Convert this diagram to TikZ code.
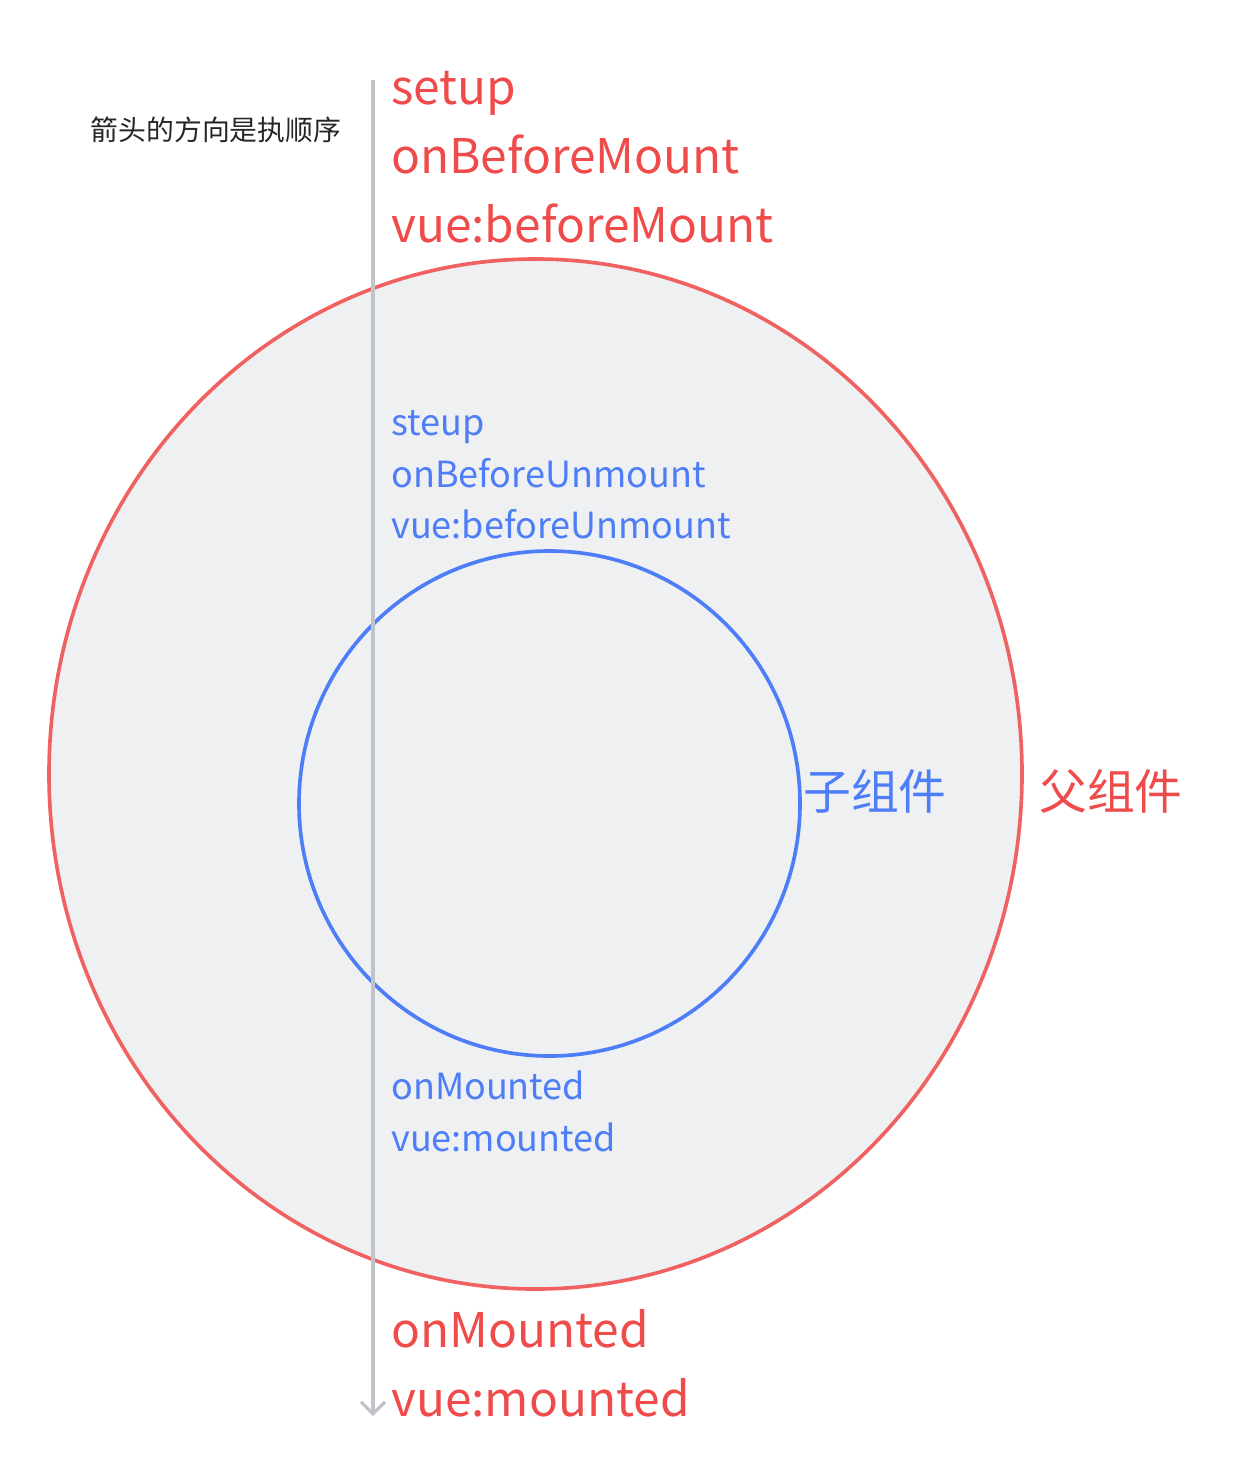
\documentclass[tikz,border=0pt]{standalone}
\usepackage{fontspec}
\setmainfont{Noto Sans CJK SC}
\usepackage{tikz}
\usetikzlibrary{arrows.meta}
\definecolor{parentred}{HTML}{F04B4B}
\definecolor{ringred}{HTML}{F06262}
\definecolor{childblue}{HTML}{4D7EF7}
\definecolor{ringfill}{HTML}{EFF0F2}
\definecolor{flowgray}{HTML}{C0C3C8}
\tikzset{
  bigred/.style={anchor=base west,inner sep=0pt,text=parentred,font=\fontsize{34}{40}\selectfont},
  smallblue/.style={anchor=base west,inner sep=0pt,text=childblue,font=\fontsize{25.6}{30}\selectfont},
  cjklabel/.style={anchor=west,inner sep=0pt,font=\fontsize{34}{40}\selectfont}
}
\begin{document}
\begin{tikzpicture}[x=0.025cm,y=-0.025cm]
		\useasboundingbox (0,0) rectangle (1232,1482);
		\draw[ringred,line width=2.6pt,fill=ringfill] (535.5,774) ellipse [x radius=486.5,y radius=515]; % parent ring
		\draw[childblue,line width=2.6pt] (549.5,803.5) ellipse [x radius=250.5,y radius=252.5]; % child ring
		\coordinate (flowstart) at (373,80);
		\coordinate (flowend) at (373,1416);
		\draw[flowgray,line width=2.6pt,-{Straight Barb[length=8.5pt,width=17pt,line width=2.2pt]}] (flowstart) -- (flowend);
		\node[anchor=center,inner sep=0pt,font=\fontsize{19.8}{24}\selectfont,text=black!85] (hint) at (216,130) {箭头的方向是执顺序};
		% parent hooks
		\node[bigred] (psetup) at (391,104) {setup};
		\node[bigred] (pbefore) at (391,173) {onBeforeMount};
		\node[bigred] (pvuebefore) at (391,242) {vue:beforeMount};
		\node[bigred] (pmounted) at (391,1347) {onMounted};
		\node[bigred] (pvuemounted) at (391,1416) {vue:mounted};
		% child hooks
		\node[smallblue] (csetup) at (391,435) {steup};
		\node[smallblue] (cbefore) at (391,487) {onBeforeUnmount};
		\node[smallblue] (cvuebefore) at (391,538) {vue:beforeUnmount};
		\node[smallblue] (cmounted) at (391,1099) {onMounted};
		\node[smallblue] (cvuemounted) at (391,1151) {vue:mounted};
		\node[cjklabel,text=childblue] (childname) at (803,791) {子组件};
		\node[cjklabel,text=parentred] (parentname) at (1039,791) {父组件};
\end{tikzpicture}
\end{document}
